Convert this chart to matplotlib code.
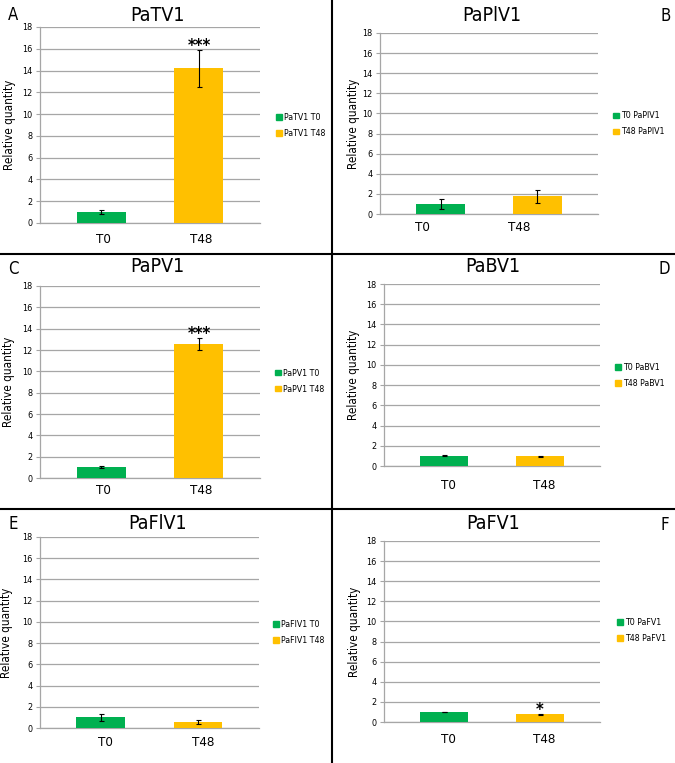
"""
Expresión relativa de seis micovirus (T0 vs T48), paneles A-F.
Guarda out.png de 675x763 px.
"""

import matplotlib
matplotlib.use("Agg")
import matplotlib.pyplot as plt
from matplotlib import font_manager, transforms
from matplotlib.font_manager import FontProperties
from matplotlib.lines import Line2D
from matplotlib.patches import Patch

ANCHO, ALTO = 675, 763

# --- datos ---
LETRAS = ["A", "B", "C", "D", "E", "F"]
TITULOS = ["PaTV1", "PaPlV1", "PaPV1", "PaBV1", "PaFlV1", "PaFV1"]
CATEGORIAS = ["T0", "T48"]
MEDIA_T0 = [1.0, 1.0, 1.0, 1.0, 1.0, 1.0]
MEDIA_T48 = [14.2, 1.75, 12.6, 0.97, 0.55, 0.77]
ERROR_T0 = [0.15, 0.48, 0.1, 0.05, 0.32, 0.03]
ERROR_T48 = [1.7, 0.62, 0.56, 0.04, 0.2, 0.03]
SIGNIFICANCIA = ["***", "", "***", "", "", "*"]
LEYENDA_T0 = ["PaTV1 T0", "T0 PaPlV1", "PaPV1 T0", "T0 PaBV1", "PaFlV1 T0", "T0 PaFV1"]
LEYENDA_T48 = ["PaTV1 T48", "T48 PaPlV1", "PaPV1 T48", "T48 PaBV1", "PaFlV1 T48", "T48 PaFV1"]
Y_TICKS = [0, 2, 4, 6, 8, 10, 12, 14, 16, 18]
Y_MAX = 18

# --- geometría en píxeles (izq, der, arriba, abajo) de cada panel ---
EJES = [(40, 260, 27, 223), (380, 598, 33, 214), (40, 260, 286, 478),
        (384, 600, 284, 466), (40, 259, 537, 728), (384, 600, 541, 722)]
TITULO_POS = [(157, 21), (492, 21), (157, 272), (493, 272), (158, 529), (493, 529)]
LETRA_POS = [(8, 20), (660, 21), (8, 274), (659, 274), (8, 529), (660, 530)]
LEYENDA_POS = [(276, 125.5), (613, 124), (275, 381), (615, 375.5), (273, 632.5), (617, 630.5)]
YLABEL_DER = [16, 360, 15, 360, 13, 361]
XTICK_PAD = [10, 7, 6, 13, 8, 11]          # px entre eje y etiqueta
XTICK_DESPLAZA = [2, -18, 2, 4, 5, 4]      # px, corrimiento horizontal

VERDE = "#00b050"
AMARILLO = "#ffc000"
GRIS = "#a6a6a6"


def _fuente_estrecha():
    """DejaVu condensada si existe; si no, la más angosta disponible."""
    lista = font_manager.fontManager.ttflist
    nombres = {f.name for f in lista}
    if "DejaVu Sans Condensed" in nombres:
        return {"family": "DejaVu Sans Condensed"}
    if any(f.name == "DejaVu Sans" and f.stretch == "condensed" for f in lista):
        return {"family": "DejaVu Sans", "stretch": "condensed"}
    for nombre in ("Liberation Sans Narrow", "Roboto"):
        if nombre in nombres:
            return {"family": nombre}
    return {"family": "DejaVu Sans"}


FUENTE = _fuente_estrecha()


def _prop(tam, **extra):
    return FontProperties(size=tam, **FUENTE, **extra)


def fx(px):
    return px / ANCHO


def fy(py):
    return 1 - py / ALTO


fig = plt.figure(figsize=(ANCHO / 100, ALTO / 100), dpi=100)

for i in range(len(LETRAS)):
    izq, der, arr, aba = EJES[i]
    ax = fig.add_axes([fx(izq), fy(aba), (der - izq) / ANCHO, (aba - arr) / ALTO])
    medias = [MEDIA_T0[i], MEDIA_T48[i]]
    errores = [ERROR_T0[i], ERROR_T48[i]]
    for j, (m, e, c) in enumerate(zip(medias, errores, (VERDE, AMARILLO))):
        ax.bar(j, m, width=0.5, color=c, zorder=3,
               yerr=e, error_kw=dict(ecolor="black", elinewidth=0.8,
                                     capsize=1.8, capthick=0.8, zorder=4))
    if SIGNIFICANCIA[i]:
        ax.annotate(SIGNIFICANCIA[i], (1, medias[1] + errores[1]),
                    xytext=(0, -1), textcoords="offset points",
                    ha="center", va="baseline", fontproperties=_prop(12, weight="bold"))

    ax.set_xlim(-0.625, 1.625)
    ax.set_ylim(0, Y_MAX)
    ax.set_yticks(Y_TICKS)
    ax.set_xticks(range(len(CATEGORIAS)))
    ax.set_xticklabels(CATEGORIAS, fontproperties=_prop(9.5))
    for t in ax.get_yticklabels():
        t.set_fontproperties(_prop(6.5))
    ax.grid(axis="y", color=GRIS, linewidth=0.9, zorder=0)
    for lado in ("top", "right"):
        ax.spines[lado].set_visible(False)
    for lado in ("left", "bottom"):
        ax.spines[lado].set_color(GRIS)
        ax.spines[lado].set_linewidth(0.9)
    ax.tick_params(axis="y", length=3, width=0.8, color=GRIS, pad=2.5)
    ax.tick_params(axis="x", length=0, pad=XTICK_PAD[i] * 0.72)
    corre = transforms.ScaledTranslation(XTICK_DESPLAZA[i] / 100, 0, fig.dpi_scale_trans)
    for t in ax.get_xticklabels():
        t.set_transform(t.get_transform() + corre)

    ax.set_ylabel("Relative quantity", fontproperties=_prop(8.4))
    ax.yaxis.set_label_coords((YLABEL_DER[i] - izq) / (der - izq), 0.5)

    manijas = [Patch(color=VERDE), Patch(color=AMARILLO)]
    lx, ly = LEYENDA_POS[i]
    ax.legend(manijas, [LEYENDA_T0[i], LEYENDA_T48[i]], loc="center left",
              bbox_to_anchor=(fx(lx), fy(ly)), bbox_transform=fig.transFigure,
              frameon=False, prop=_prop(6.3), handlelength=0.7, handleheight=0.65,
              handletextpad=0.25, labelspacing=0.8, borderpad=0, borderaxespad=0)

    tx, ty = TITULO_POS[i]
    fig.text(fx(tx), fy(ty), TITULOS[i], ha="center", va="baseline",
             fontproperties=_prop(14))
    lx, ly = LETRA_POS[i]
    fig.text(fx(lx), fy(ly), LETRAS[i], ha="left", va="baseline",
             fontproperties=_prop(12))

# divisiones negras entre paneles
fig.add_artist(Line2D([fx(332), fx(332)], [0, 1], color="black", lw=1.5))
for y in (254, 509):
    fig.add_artist(Line2D([0, 1], [fy(y), fy(y)], color="black", lw=1.5))

fig.savefig("out.png", dpi=100)
